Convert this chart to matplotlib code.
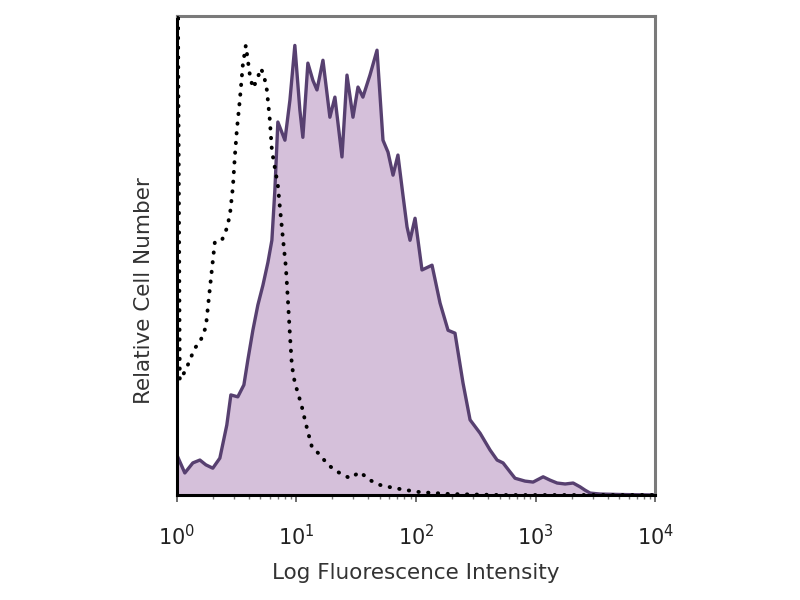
import numpy as np
import matplotlib
matplotlib.use("Agg")
import matplotlib.pyplot as plt
from matplotlib.ticker import LogLocator, NullFormatter, FixedLocator

# stained sample (filled histogram): log10 intensity, relative count (% of max)
stain_log = [0.00, 0.067, 0.134, 0.193, 0.243, 0.301, 0.360, 0.418, 0.452, 0.510,
             0.561, 0.594, 0.636, 0.678, 0.720, 0.762, 0.795, 0.820, 0.845, 0.904,
             0.946, 0.987, 1.029, 1.054, 1.096, 1.138, 1.172, 1.222, 1.280, 1.322,
             1.381, 1.423, 1.473, 1.515, 1.556, 1.615, 1.674, 1.724, 1.766, 1.808,
             1.849, 1.891, 1.925, 1.950, 1.992, 2.050, 2.134, 2.201, 2.268, 2.326,
             2.393, 2.452, 2.536, 2.619, 2.678, 2.728, 2.787, 2.828, 2.912, 2.979,
             3.063, 3.121, 3.180, 3.247, 3.314, 3.372, 3.414, 3.456, 3.540, 3.707, 4.000]
stain_cnt = [8.4, 4.6, 6.7, 7.3, 6.3, 5.6, 7.7, 14.6, 20.9, 20.5,
             23.0, 28.2, 34.4, 39.7, 43.8, 48.6, 53.2, 63.7, 77.9, 74.1,
             82.5, 93.9, 80.4, 74.7, 90.2, 86.6, 84.6, 90.8, 78.9, 83.1,
             70.6, 87.7, 78.9, 85.2, 83.1, 87.7, 92.9, 74.1, 71.6, 66.8,
             71.0, 62.6, 56.0, 53.2, 57.8, 47.0, 48.0, 40.1, 34.4, 33.8,
             23.4, 15.7, 12.9, 9.4, 7.3, 6.7, 4.8, 3.5, 2.9, 2.7,
             3.8, 3.1, 2.5, 2.3, 2.5, 1.7, 1.0, 0.4, 0.2, 0.1, 0.0]

# control (dotted): log10 intensity, relative count (% of max)
ctrl_log = [0.000, 0.008, 0.025, 0.075, 0.109, 0.151, 0.193, 0.243, 0.268, 0.293,
            0.318, 0.377, 0.418, 0.444, 0.469, 0.485, 0.502, 0.527, 0.552, 0.577,
            0.611, 0.636, 0.669, 0.703, 0.728, 0.753, 0.778, 0.795, 0.820, 0.845,
            0.862, 0.887, 0.912, 0.929, 0.946, 0.962, 0.987, 1.013, 1.046, 1.071,
            1.096, 1.130, 1.197, 1.264, 1.347, 1.448, 1.531, 1.615, 1.699, 1.808,
            1.925, 2.033, 2.285, 2.703, 4.000]
ctrl_cnt = [0.0, 110.0, 24.0, 26.1, 28.2, 30.7, 31.9, 35.1, 41.1, 47.0,
            52.8, 53.2, 55.7, 58.5, 64.3, 70.6, 76.2, 82.5, 89.8, 93.9,
            87.7, 85.0, 86.6, 89.1, 87.7, 84.6, 78.3, 72.0, 68.3, 64.7,
            60.1, 53.7, 47.6, 40.7, 33.4, 27.1, 23.4, 21.3, 18.4, 15.7,
            13.2, 10.0, 8.4, 6.3, 4.8, 3.5, 4.8, 3.1, 2.1, 1.5,
            1.0, 0.6, 0.2, 0.0, 0.0]

decades = [0, 1, 2, 3, 4]

stain_x = 10 ** np.array(stain_log)
ctrl_x = 10 ** np.array(ctrl_log)

fig = plt.figure(figsize=(8, 6), dpi=100)
fig.set_facecolor("white")
ax = fig.add_axes([0.221, 0.175, 0.598, 0.798])
ax.set_xscale("log")

ax.fill_between(stain_x, stain_cnt, 0, color="#D5C0DA", lw=0, zorder=1)
ax.plot(stain_x, stain_cnt, color="#574070", lw=2.4, zorder=2)
ax.plot(ctrl_x, ctrl_cnt, color="black", lw=2.8, ls=(0, (0.1, 2.4)),
        dash_capstyle="round", zorder=3)

ax.set_xlim(1, 1e4)
ax.set_ylim(0, 100)

ax.xaxis.set_major_locator(FixedLocator([10 ** d for d in decades]))
ax.set_xticklabels([r"$10^{%d}$" % d for d in decades], fontsize=15, color="#222222")
ax.xaxis.set_minor_locator(LogLocator(base=10, subs=np.arange(2, 10)))
ax.xaxis.set_minor_formatter(NullFormatter())
ax.tick_params(axis="x", which="major", length=5, width=1.2, color="#555555", pad=16)
ax.tick_params(axis="x", which="minor", length=3, width=1, color="#777777")
ax.set_yticks([])

for side in ["left", "bottom"]:
    ax.spines[side].set_color("black")
    ax.spines[side].set_linewidth(2.2)
for side in ["top", "right"]:
    ax.spines[side].set_color("#7a7a7a")
    ax.spines[side].set_linewidth(2.2)

ax.set_xlabel("Log Fluorescence Intensity", fontsize=15.5, color="#333333", labelpad=10)
ax.set_ylabel("Relative Cell Number", fontsize=15.5, color="#333333")
# label sits a little below the axis centre in the original
ax.yaxis.set_label_coords(-0.048, 0.428)

fig.savefig("out.png", dpi=100)
